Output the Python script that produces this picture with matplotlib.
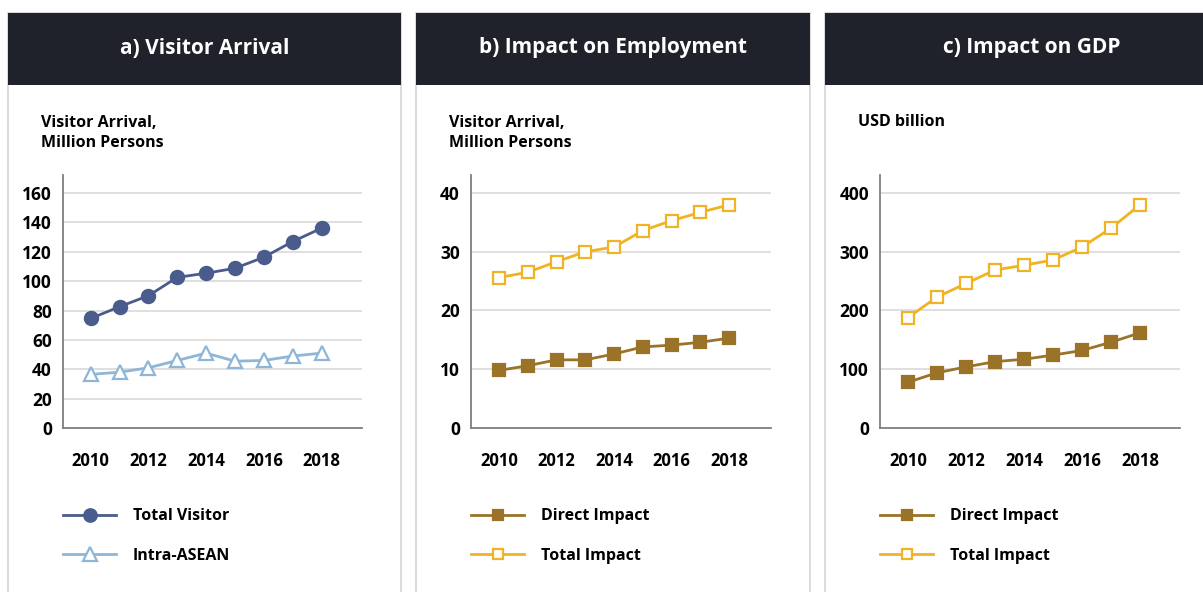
import matplotlib
matplotlib.use("Agg")
import matplotlib.pyplot as plt
from matplotlib.patches import Rectangle
from matplotlib.lines import Line2D

plt.rcParams['font.family'] = ['Open Sans', 'DejaVu Sans']

years = [2010, 2011, 2012, 2013, 2014, 2015, 2016, 2017, 2018]
year_ticks = [2010, 2012, 2014, 2016, 2018]

total_visitor = [74.6, 82.6, 90.1, 102.6, 105.4, 108.8, 116.3, 127.0, 136.1]
intra_asean = [36.5, 38.0, 41.0, 46.0, 51.0, 45.5, 46.0, 49.0, 51.0]

emp_direct = [9.8, 10.6, 11.6, 11.6, 12.6, 13.8, 14.1, 14.6, 15.3]
emp_total = [25.6, 26.5, 28.3, 30.0, 30.8, 33.6, 35.3, 36.7, 38.0]

gdp_direct = [78, 94, 104, 113, 117, 124, 132, 146, 162]
gdp_total = [188, 223, 246, 269, 277, 286, 308, 340, 380]

titles = ["a) Visitor Arrival", "b) Impact on Employment", "c) Impact on GDP"]
units = ["Visitor Arrival,\nMillion Persons", "Visitor Arrival,\nMillion Persons", "USD billion"]
yticks = [[0, 20, 40, 60, 80, 100, 120, 140, 160], [0, 10, 20, 30, 40], [0, 100, 200, 300, 400]]
ytops = [172.3, 43.06, 430.6]

W, H = 1203, 592
fig = plt.figure(figsize=(W / 100, H / 100), dpi=100)

def fx(x):
    return x / W

def fy(y):
    return 1 - y / H

header_col = '#1f222b'
border_col = '#dcdcdc'
c_total = '#4a5c8c'
c_intra = '#8fb6d6'
c_direct = '#9a7329'
c_timp = '#f0b324'

panels = [(8, 401), (416, 810), (825, 1210)]
title_cx = [204.5, 613, 1032]
for (l, r), t, cx in zip(panels, titles, title_cx):
    fig.patches.append(Rectangle((fx(l), fy(600)), fx(r - l), (600 - 13) / H,
                                 transform=fig.transFigure, facecolor='white',
                                 edgecolor=border_col, linewidth=1.5, zorder=0))
    fig.patches.append(Rectangle((fx(l), fy(85)), fx(r - l), 72 / H,
                                 transform=fig.transFigure, facecolor=header_col,
                                 edgecolor='none', zorder=1))
    fig.text(fx(cx), fy(48), t, color='white',
             fontsize=15, fontweight='bold', ha='center', va='center', zorder=2)

axes_px = [(63, 362), (471, 771), (880, 1180)]
xlims = [(2009.04, 2019.40), (2009.03, 2019.45), (2009.03, 2019.38)]

series = [
    [(total_visitor, c_total, 'o', c_total, 9.5, "Total Visitor"),
     (intra_asean, c_intra, '^', 'white', 10, "Intra-ASEAN")],
    [(emp_direct, c_direct, 's', c_direct, 8, "Direct Impact"),
     (emp_total, c_timp, 's', 'white', 8, "Total Impact")],
    [(gdp_direct, c_direct, 's', c_direct, 8, "Direct Impact"),
     (gdp_total, c_timp, 's', 'white', 8, "Total Impact")],
]

for i in range(3):
    l, r = axes_px[i]
    ax = fig.add_axes([fx(l), fy(428), fx(r - l), 253 / H])
    ax.set_zorder(5)
    ax.set_facecolor('none')
    ax.set_xlim(*xlims[i])
    ax.set_ylim(0, ytops[i])
    ax.set_yticks(yticks[i])
    ax.set_xticks(year_ticks)
    ax.set_xticklabels([str(y) for y in year_ticks])
    for lab in ax.get_xticklabels():
        lab.set_fontweight('bold')
        lab.set_fontsize(12)
    for lab in ax.get_yticklabels():
        lab.set_fontweight('bold')
        lab.set_fontsize(12.5)
    ax.tick_params(axis='both', length=0)
    ax.tick_params(axis='x', pad=17)
    ax.tick_params(axis='y', pad=8)
    ax.grid(axis='y', color='#d9d9d9', linewidth=1.2)
    ax.set_axisbelow(True)
    for s in ['top', 'right']:
        ax.spines[s].set_visible(False)
    for s in ['left', 'bottom']:
        ax.spines[s].set_color('#7f7f7f')
        ax.spines[s].set_linewidth(1.3)
    handles = []
    for vals, col, mk, mfc, ms, lab in series[i]:
        ax.plot(years, vals, color=col, linewidth=2.0, marker=mk, markersize=ms,
                markerfacecolor=mfc, markeredgecolor=col, markeredgewidth=1.6,
                clip_on=False, zorder=3)
        handles.append(Line2D([], [], color=col, linewidth=2.0, marker=mk,
                              markersize=ms - 0.5, markerfacecolor=mfc,
                              markeredgecolor=col, markeredgewidth=1.6))
    labels = [s[5] for s in series[i]]
    leg = fig.legend(handles, labels, loc='center left',
                     bbox_to_anchor=(fx(l - 6), fy(536)), frameon=False,
                     prop={'weight': 'bold', 'size': 11.5}, handlelength=3.3,
                     handletextpad=1.05, labelspacing=1.45, borderaxespad=0)
    leg.set_zorder(6)
    if '\n' in units[i]:
        fig.text(fx(l - 22), fy(115), units[i], fontsize=11.5, fontweight='bold',
                 ha='left', va='top', linespacing=1.3, zorder=6)
    else:
        fig.text(fx(l - 22), fy(122), units[i], fontsize=11.5, fontweight='bold',
                 ha='left', va='center', zorder=6)

fig.savefig('out.png', dpi=100)
